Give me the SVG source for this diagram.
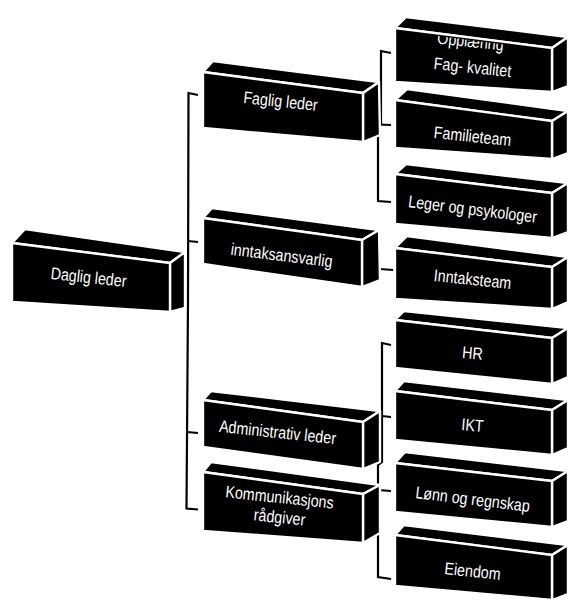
<svg xmlns="http://www.w3.org/2000/svg" width="569" height="604" viewBox="0 0 569 604">
<style>
.f{fill:#000;stroke:#fff;stroke-width:2.4;stroke-linejoin:round}
.t{fill:#fff;font-family:"Liberation Sans",Arial,sans-serif;font-size:17px;text-anchor:middle}
.c{fill:none;stroke:#000;stroke-width:2.2}
</style>
<defs>
<clipPath id="clipOpp"><polygon points="396,30.5 551,50.5 551,91 396,81"/></clipPath>
</defs>
<rect width="569" height="604" fill="#fff"/>
<g id="connectors">
<path class="c" d="M198,95 L188.5,93 L188,300 L186.5,508.5 L198,509.5"/>
<path class="c" d="M188,241 L198,242"/>
<path class="c" d="M187,432 L198,433"/>
<path class="c" d="M391,53 L381,51 L381,124 L378,126 L378,201 L391,202"/>
<path class="c" d="M378,124.5 L391,125"/>
<path class="c" d="M380,269 L393,270"/>
<path class="c" d="M391,345 L382,343 L382,462 L378,465 L378,577 L391,579"/>
<path class="c" d="M382,416 L391,417"/>
<path class="c" d="M378,490 L391,491"/>
</g>
<g id="daglig-leder">
<polygon class="f" points="12,243 25,229 185,252 170,263"/>
<polygon class="f" points="170,263 185,252 185,308 170,312"/>
<polygon class="f" points="12,243 170,263 170,312 12,302"/>
<text class="t" transform="translate(88,283) rotate(6) scale(0.84,1)">Daglig leder</text>
</g>
<g id="faglig-leder">
<polygon class="f" points="203,72 213,61 379,82 363,93"/>
<polygon class="f" points="363,93 379,82 380,135 363,142"/>
<polygon class="f" points="203,72 363,93 363,142 203,128"/>
<text class="t" transform="translate(280,107) rotate(6) scale(0.84,1)">Faglig leder</text>
</g>
<g id="inntaksansvarlig">
<polygon class="f" points="203,218 212,208 379,230 362,240"/>
<polygon class="f" points="362,240 379,230 380,280 362,287"/>
<polygon class="f" points="203,218 362,240 362,287 203,264"/>
<text class="t" transform="translate(281,261) rotate(7) scale(0.84,1)">inntaksansvarlig</text>
</g>
<g id="administrativ-leder">
<polygon class="f" points="203,400 211,391 380,411 363,422"/>
<polygon class="f" points="363,422 380,411 380,462 363,469"/>
<polygon class="f" points="203,400 363,422 363,469 203,447"/>
<text class="t" transform="translate(277,438) rotate(6) scale(0.84,1)">Administrativ leder</text>
</g>
<g id="kommunikasjons-radgiver">
<polygon class="f" points="203,472 211,462 380,485 363,494"/>
<polygon class="f" points="363,494 380,485 380,533 363,543"/>
<polygon class="f" points="203,472 363,494 363,543 203,531"/>
<text class="t" transform="translate(279,503) rotate(6) scale(0.84,1)">Kommunikasjons</text>
<text class="t" transform="translate(279,523) rotate(6) scale(0.84,1)">rådgiver</text>
</g>
<g id="opplaering">
<polygon class="f" points="395,28 406,17 568,37 552,48"/>
<polygon class="f" points="552,48 568,37 568,86 552,92"/>
<polygon class="f" points="395,28 552,48 552,92 395,82"/>
<g clip-path="url(#clipOpp)">
<text class="t" transform="translate(470,47) rotate(6) scale(0.84,1)">Opplæring</text>
</g>
<text class="t" transform="translate(472,73) rotate(6) scale(0.84,1)">Fag- kvalitet</text>
</g>
<g id="familieteam">
<polygon class="f" points="395,100 407,89 568,111 552,121"/>
<polygon class="f" points="552,121 568,111 568,153 552,159"/>
<polygon class="f" points="395,100 552,121 552,159 395,148"/>
<text class="t" transform="translate(472,142) rotate(6) scale(0.84,1)">Familieteam</text>
</g>
<g id="leger-og-psykologer">
<polygon class="f" points="395,174 406,164 568,183 552,193"/>
<polygon class="f" points="552,193 568,183 568,232 552,238"/>
<polygon class="f" points="395,174 552,193 552,238 395,224"/>
<text class="t" transform="translate(472,215) rotate(7) scale(0.84,1)">Leger og psykologer</text>
</g>
<g id="inntaksteam">
<polygon class="f" points="395,248 407,236 568,257 552,267"/>
<polygon class="f" points="552,267 568,257 568,302 552,309"/>
<polygon class="f" points="395,248 552,267 552,309 395,299"/>
<text class="t" transform="translate(472,285) rotate(6) scale(0.84,1)">Inntaksteam</text>
</g>
<g id="hr">
<polygon class="f" points="395,320 404,311 568,328 552,338"/>
<polygon class="f" points="552,338 568,328 568,377 552,384"/>
<polygon class="f" points="395,320 552,338 552,384 395,368"/>
<text class="t" transform="translate(472,359) rotate(5) scale(0.84,1)">HR</text>
</g>
<g id="ikt">
<polygon class="f" points="395,391 404,381 568,400 552,410"/>
<polygon class="f" points="552,410 568,400 568,448 552,455"/>
<polygon class="f" points="395,391 552,410 552,455 395,440"/>
<text class="t" transform="translate(472,431) rotate(5) scale(0.84,1)">IKT</text>
</g>
<g id="lonn-og-regnskap">
<polygon class="f" points="395,463 405,452 568,471 552,481"/>
<polygon class="f" points="552,481 568,471 568,521 552,527"/>
<polygon class="f" points="395,463 552,481 552,527 395,512"/>
<text class="t" transform="translate(472,505) rotate(7) scale(0.84,1)">Lønn og regnskap</text>
</g>
<g id="eiendom">
<polygon class="f" points="395,535 404,525 568,545 552,555"/>
<polygon class="f" points="552,555 568,545 568,594 552,600"/>
<polygon class="f" points="395,535 552,555 552,600 395,586"/>
<text class="t" transform="translate(472,577) rotate(6) scale(0.84,1)">Eiendom</text>
</g>
</svg>
